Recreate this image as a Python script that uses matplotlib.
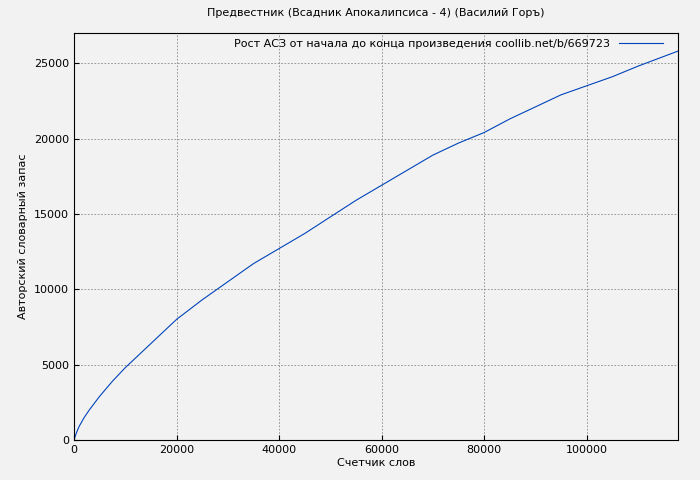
import matplotlib
matplotlib.use("Agg")
import matplotlib.pyplot as plt
import numpy as np

words = [0, 500, 1000, 2000, 3000, 5000, 7500, 10000, 12500, 15000, 20000, 25000, 30000, 35000, 40000, 45000, 50000, 55000, 60000, 65000, 70000, 75000, 80000, 85000, 90000, 95000, 100000, 105000, 110000, 117800]
vocab = [0, 500, 900, 1500, 2000, 2900, 3900, 4800, 5600, 6400, 8000, 9300, 10500, 11700, 12700, 13700, 14800, 15900, 16900, 17900, 18900, 19700, 20400, 21300, 22100, 22900, 23500, 24100, 24800, 25800]

fig = plt.figure(figsize=(7, 4.8), dpi=100, facecolor="#f2f2f2")
ax = fig.add_axes([74/700, 40/480, 604/700, 407/480])
ax.set_facecolor("#f2f2f2")
ax.plot(words, vocab, color="#0044bb", lw=0.8, label="Рост АСЗ от начала до конца произведения coollib.net/b/669723")
ax.set_xlim(0, 117800)
ax.set_ylim(0, 27000)
ax.set_xticks(range(0, 100001, 20000))
ax.set_yticks(range(0, 25001, 5000))
ax.grid(True, color="#888888", linestyle=(0, (2, 2)), lw=0.6)
ax.tick_params(labelsize=8, direction="in")
ax.set_xlabel("Счетчик слов", fontsize=8, labelpad=2)
ax.set_ylabel("Авторский словарный запас", fontsize=8)
ax.set_title("Предвестник (Всадник Апокалипсиса - 4) (Василий Горъ)", fontsize=8, pad=12)
ax.legend(loc="upper right", frameon=False, fontsize=8, markerfirst=False, handlelength=4, borderaxespad=0.1, bbox_to_anchor=(0.985, 1.0))
fig.savefig("out.png", facecolor=fig.get_facecolor())
